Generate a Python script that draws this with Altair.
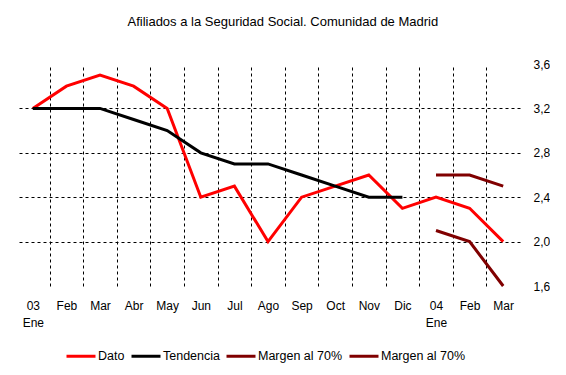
import json
import altair as alt
import pandas as pd

x_labels = ["03 Ene", "Feb", "Mar", "Abr", "May", "Jun", "Jul", "Ago", "Sep", "Oct", "Nov", "Dic", "04 Ene", "Feb", "Mar"]
dato = [3.2, 3.4, 3.5, 3.4, 3.2, 2.4, 2.5, 2.0, 2.4, 2.5, 2.6, 2.3, 2.4, 2.3, 2.0]
tendencia = [3.2, 3.2, 3.2, 3.1, 3.0, 2.8, 2.7, 2.7, 2.6, 2.5, 2.4, 2.4]
margen_sup = [2.6, 2.6, 2.5]
margen_inf = [2.1, 2.0, 1.6]
margen_start = 12

series_keys = ["Dato", "Tendencia", "Margen sup", "Margen inf"]
series_labels = ["Dato", "Tendencia", "Margen al 70%", "Margen al 70%"]
series_colors = ["#ff0000", "#000000", "#800000", "#800000"]
y_ticks = [1.6, 2.0, 2.4, 2.8, 3.2, 3.6]

rows = []
for i, v in enumerate(dato):
    rows.append({"i": i, "v": v, "s": "Dato", "o": 0})
for i, v in enumerate(tendencia):
    rows.append({"i": i, "v": v, "s": "Tendencia", "o": 1})
main_df = pd.DataFrame(rows)

rows2 = []
for k, v in enumerate(margen_sup):
    rows2.append({"i": margen_start + k, "v": v, "s": "Margen sup", "o": 2})
for k, v in enumerate(margen_inf):
    rows2.append({"i": margen_start + k, "v": v, "s": "Margen inf", "o": 3})
marg_df = pd.DataFrame(rows2)

FONT = "Liberation Sans"
n = len(x_labels)

legend_map = "{" + ",".join(f"{json.dumps(k)}:{json.dumps(l)}" for k, l in zip(series_keys, series_labels)) + "}"

color = alt.Color(
    "s:N",
    scale=alt.Scale(domain=series_keys, range=series_colors),
    legend=alt.Legend(
        title=None,
        orient="none",
        legendX=49,
        legendY=276,
        direction="horizontal",
        symbolType="stroke",
        symbolSize=841,
        symbolStrokeWidth=3,
        labelOffset=1,
        columnPadding=0,
        labelFont=FONT,
        labelFontSize=12.5,
        labelColor="black",
        labelExpr=f"{legend_map}[datum.label]",
    ),
)

y_enc = alt.Y(
    "v:Q",
    scale=alt.Scale(domain=[1.6, 3.6], nice=False, zero=False),
    axis=alt.Axis(
        orient="right",
        values=y_ticks,
        title=None,
        domain=False,
        ticks=False,
        labelPadding=13,
        labelFont=FONT,
        labelFontSize=12,
        labelColor="black",
        labelExpr="replace(format(datum.value, '.1f'), '.', ',')",
        grid=True,
        gridColor="black",
        gridDash=[3, 3],
        gridWidth=1,
        gridOpacity={"condition": {"test": "datum.value < 1.7 || datum.value > 3.5", "value": 0}, "value": 1},
    ),
)

x_scale = alt.Scale(domain=[-0.5, n - 0.5], nice=False, zero=False)

main = alt.Chart(main_df).mark_line(strokeWidth=3).encode(
    x=alt.X(
        "i:Q",
        scale=x_scale,
        axis=alt.Axis(
            orient="bottom",
            values=list(range(n)),
            title=None,
            grid=False,
            domain=False,
            ticks=False,
            labelAngle=0,
            labelPadding=14,
            labelFont=FONT,
            labelFontSize=12,
            labelColor="black",
            labelLineHeight=17,
            labelFlush=False,
            labelOverlap=False,
            labelExpr=f"split({json.dumps(x_labels)}[round(datum.value)], ' ')",
        ),
    ),
    y=y_enc,
    color=color,
    order="o:Q",
)

marg = alt.Chart(marg_df).mark_line(strokeWidth=3).encode(
    x=alt.X(
        "i:Q",
        scale=x_scale,
        axis=alt.Axis(
            orient="top",
            values=[k + 0.5 for k in range(n - 1)],
            title=None,
            grid=True,
            gridColor="black",
            gridDash=[3, 3],
            gridWidth=1,
            labels=False,
            domain=False,
            ticks=False,
        ),
    ),
    y=y_enc,
    color=color,
)

chart = (
    alt.layer(main, marg)
    .resolve_axis(x="independent")
    .properties(
        width=504,
        height=222,
        padding={"left": 16, "top": 16, "right": 0, "bottom": 0},
        title=alt.TitleParams(
            "Afiliados a la Seguridad Social. Comunidad de Madrid",
            font=FONT,
            fontSize=13,
            fontWeight="normal",
            color="black",
            anchor="middle",
            frame="bounds",
            offset=29,
        ),
    )
    .configure(background="white")
    .configure_view(stroke=None)
)

chart.save("out.html", embed_options={"renderer": "svg", "actions": False})
